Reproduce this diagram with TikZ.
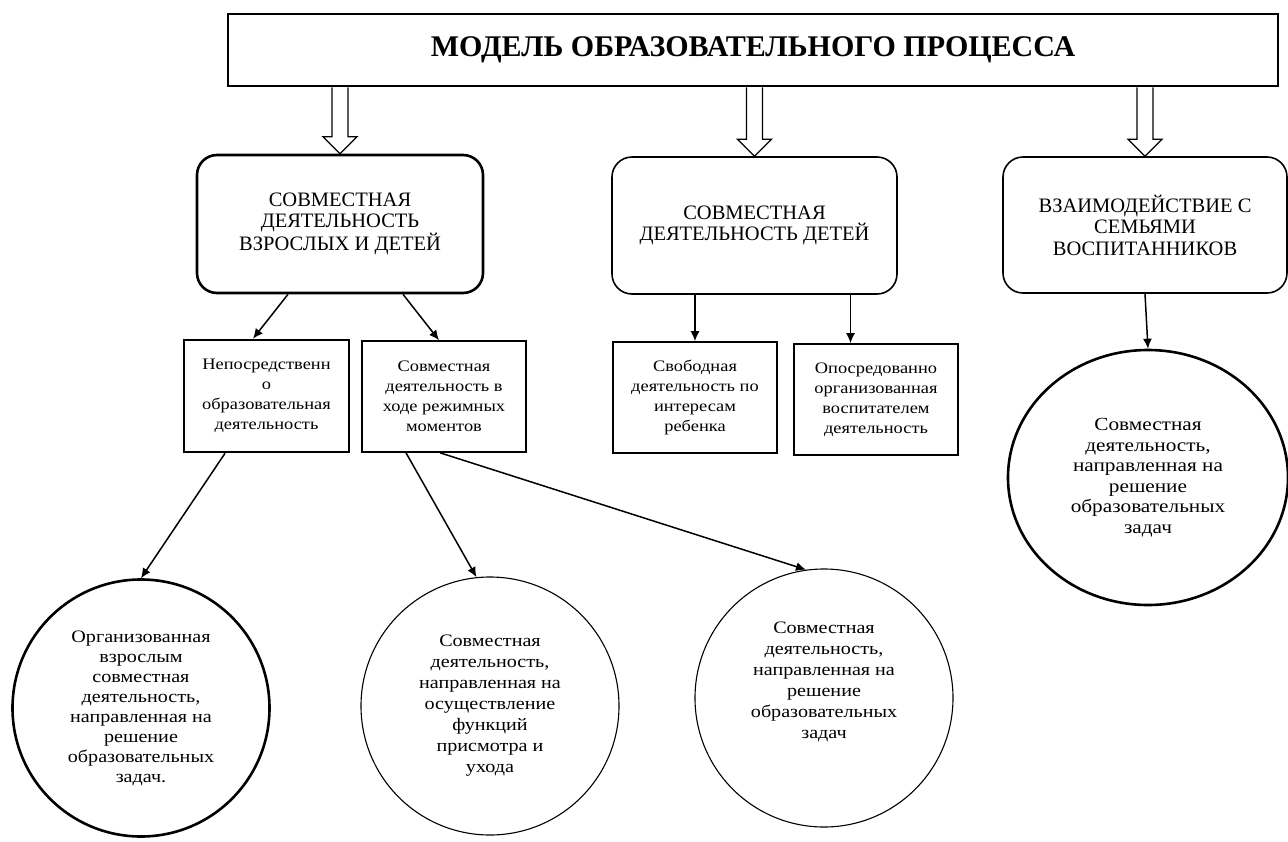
\documentclass[tikz,border=0pt]{standalone}
\usepackage{fontspec}
\setmainfont{Liberation Serif}
\newfontfamily\widefont[FakeStretch=1.15]{Liberation Serif}
\usetikzlibrary{arrows.meta,calc,shapes.geometric}
\begin{document}
\begin{tikzpicture}[x=1pt,y=-1pt,
  thickline/.style={line width=2.6pt},
  titlebox/.style={draw, thickline, rectangle, minimum width=1050pt, minimum height=72pt, inner sep=0pt, font=\bfseries\fontsize{30}{33}\selectfont},
  bigbox/.style={draw, line width=1.6pt, rounded corners=20pt, minimum width=285pt, minimum height=137pt, align=center, inner sep=0pt, font=\fontsize{20.5}{21.5}\selectfont},
  smallbox/.style={draw, line width=1.6pt, rectangle, minimum width=164pt, minimum height=111pt, align=center, inner sep=0pt, font=\widefont\fontsize{16}{20}\selectfont},
  circ/.style={draw, line width=1.1pt, circle, minimum size=258pt, inner sep=0pt, align=center, font=\widefont\fontsize{17.5}{21}\selectfont},
  conn/.style={line width=1.5pt, -{Latex[length=10pt,width=9pt]}},
  hollow/.style={draw, line width=1.3pt, fill=white, line join=miter},
]
\useasboundingbox[fill=white] (0,0) rectangle (1288,841);

\node[titlebox] (title) at (753,50) {МОДЕЛЬ ОБРАЗОВАТЕЛЬНОГО ПРОЦЕССА};

\node[bigbox, thickline, minimum width=286pt, minimum height=138pt] (b1) at (340,224) {СОВМЕСТНАЯ\\ДЕЯТЕЛЬНОСТЬ\\ВЗРОСЛЫХ И ДЕТЕЙ};
\node[bigbox] (b2) at (754.5,225.5) {СОВМЕСТНАЯ\\ДЕЯТЕЛЬНОСТЬ ДЕТЕЙ};
\node[bigbox, minimum width=284pt, minimum height=136pt] (b3) at (1145,225) {ВЗАИМОДЕЙСТВИЕ С\\СЕМЬЯМИ\\ВОСПИТАННИКОВ};

\node[smallbox, thickline, minimum width=165pt, minimum height=112pt] (A) at (266.5,396) {Непосредственн\\о\\образовательная\\деятельность};
\node[smallbox] (B) at (444,396.5) {Совместная\\деятельность в\\ходе режимных\\моментов};
\node[smallbox] (C) at (695,397.5) {Свободная\\деятельность по\\интересам\\ребенка};
\node[smallbox] (D) at (876,399.5) {Опосредованно\\организованная\\воспитателем\\деятельность};

\node[circ, thickline, minimum size=257pt, font=\widefont\fontsize{17.5}{20}\selectfont] (E) at (141,708) {Организованная\\взрослым\\совместная\\деятельность,\\направленная на\\решение\\образовательных\\задач.};
\node[circ] (F) at (490,706) {Совместная\\деятельность,\\направленная на\\осуществление\\функций\\присмотра и\\ухода};
\node[circ] (G) at (824,698) {Совместная\\деятельность,\\направленная на\\решение\\образовательных\\задач\\[14pt]\mbox{}};
\node[circ, thickline, ellipse, minimum width=280pt, minimum height=255pt, font=\widefont\fontsize{18.5}{20.5}\selectfont] (H) at (1148,477.5) {Совместная\\деятельность,\\направленная на\\решение\\образовательных\\задач};

% hollow block arrows
\foreach \b in {b1,b2,b3} {
  \draw[hollow] ($(\b.north |- title.south)+(-8,0)$) -- ($(\b.north)+(-8,-17)$) -- ($(\b.north)+(-17,-17)$) -- (\b.north) -- ($(\b.north)+(17,-17)$) -- ($(\b.north)+(8,-17)$) -- ($(\b.north |- title.south)+(8,0)$);
}

% connectors
\draw[conn] ($(b1.south)+(-52,0)$) -- ($(A.north)+(-13.5,0)$);
\draw[conn] ($(b1.south)+(63,0)$) -- ($(B.north)+(-5,0)$);
\draw[conn] (C.north |- b2.south) -- (C.north);
\coordinate (d1) at ($(b2.south)+(96,0)$);
\draw[conn] (d1) -- (d1 |- D.north);
\draw[conn] (b3.south) -- (H.north);
\draw[conn] ($(A.south)+(-41.5,0)$) -- (E.north);
\draw[conn] ($(B.south)+(-38,0)$) -- (F.96);
\draw[conn] ($(B.south)+(-4,0)$) -- (G.98);
\end{tikzpicture}
\end{document}
